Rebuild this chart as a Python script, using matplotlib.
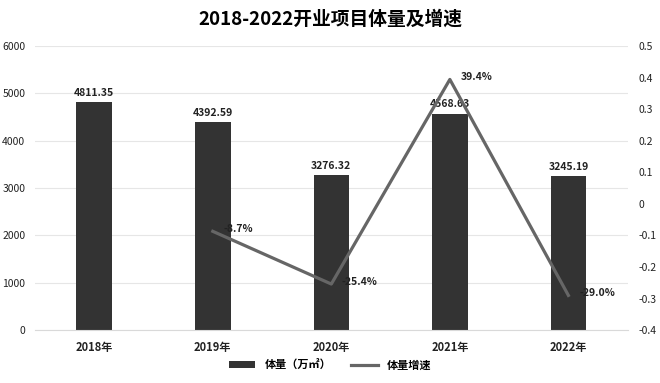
import matplotlib
matplotlib.use("Agg")
import matplotlib.pyplot as plt
from matplotlib.lines import Line2D
from matplotlib.patches import Patch

plt.rcParams['font.family'] = ['Noto Sans CJK SC', 'DejaVu Sans']

years = ["2018年", "2019年", "2020年", "2021年", "2022年"]
volume = [4811.35, 4392.59, 3276.32, 4568.63, 3245.19]
growth = [None, -0.087, -0.254, 0.394, -0.290]
growth_labels = ["", "-8.7%", "-25.4%", "39.4%", "-29.0%"]
left_ticks = [0, 1000, 2000, 3000, 4000, 5000, 6000]
right_ticks = [-0.4, -0.3, -0.2, -0.1, 0, 0.1, 0.2, 0.3, 0.4, 0.5]

fig = plt.figure(figsize=(6.6, 3.83), dpi=100)
ax = fig.add_axes([0.053, 0.138, 0.898, 0.742])
x = list(range(len(years)))
ax.bar(x, volume, width=0.3, color="#333333", zorder=2)
ax.set_ylim(0, 6000)
ax.set_yticks(left_ticks)
ax.set_yticklabels([str(t) for t in left_ticks], fontsize=7.5, color='#222222')
ax.set_xticks(x)
ax.set_xticklabels(years, fontsize=8, fontweight='bold', color='#222222')
ax.set_xlim(-0.5, 4.5)
ax.grid(axis='y', color='#e6e6e6', linewidth=0.8, zorder=0)
for s in ['top', 'right', 'left']:
    ax.spines[s].set_visible(False)
ax.spines['bottom'].set_color('#d9d9d9')
ax.tick_params(axis='both', length=0)
ax.tick_params(axis='y', pad=7)
ax.tick_params(axis='x', pad=8)
for xi, v in zip(x, volume):
    ax.text(xi, v + 90, f"{v:.2f}", ha='center', va='bottom', fontsize=7.5,
            fontweight='bold', color='#222222')

ax2 = ax.twinx()
gx = [xi for xi, g in zip(x, growth) if g is not None]
gy = [g for g in growth if g is not None]
ax2.plot(gx, gy, color='#666666', linewidth=2.3, zorder=3)
ax2.set_ylim(-0.4, 0.5)
ax2.set_yticks(right_ticks)
ax2.set_yticklabels([("0" if abs(t) < 1e-9 else f"{t:g}") for t in right_ticks],
                    fontsize=7.5, color='#222222')
for s in ['top', 'right', 'left', 'bottom']:
    ax2.spines[s].set_visible(False)
ax2.tick_params(axis='y', length=0, pad=8)
for xi, g, lab in zip(x, growth, growth_labels):
    if g is None:
        continue
    ax2.text(xi + 0.09, g + 0.008, lab, ha='left', va='center', fontsize=7.5,
             fontweight='bold', color='#222222')

fig.suptitle("2018-2022开业项目体量及增速", fontsize=13.5, fontweight='bold', y=0.975)

handles = [Patch(facecolor="#333333"), Line2D([0], [0], color='#666666', linewidth=2.3)]
fig.legend(handles, ["体量（万㎡）", "体量增速"], loc='center', ncol=2,
           bbox_to_anchor=(0.5, 0.047), frameon=False, handlelength=2.4,
           handleheight=0.5, columnspacing=1.8, prop={'weight': 'bold', 'size': 8})

fig.savefig("out.png", dpi=100)
